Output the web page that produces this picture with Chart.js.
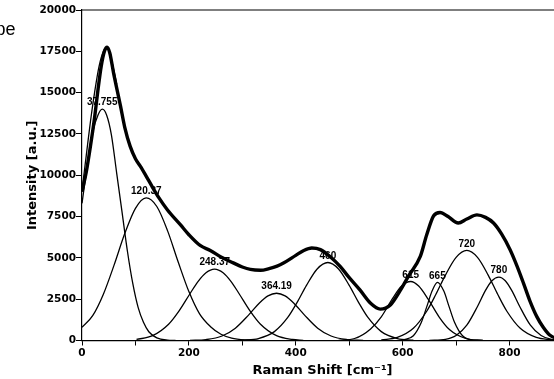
<!DOCTYPE html>
<html>
<head>
<meta charset="utf-8">
<script src="https://cdn.jsdelivr.net/npm/chart.js@4.4.1/dist/chart.umd.min.js"></script>
<style>
  html, body { margin: 0; padding: 0; background: #fff; overflow: hidden; }
  #wrap { width: 570px; height: 379px; }
</style>
</head>
<body>
<div id="wrap"><canvas id="ramanChart" width="570" height="379"></canvas></div>
<script>
// measured spectrum (thick dotted trace)
const expShift = [0, 8, 16, 24, 30, 36, 42, 47, 52, 59, 72, 80, 90, 100, 109, 120, 131, 144, 160, 184, 200, 221, 240, 260, 283, 300, 315, 334, 350, 365, 377, 400, 415, 430, 446, 465, 483, 500, 520, 540, 558, 577, 595, 612, 633, 645, 658, 670, 685, 704, 720, 739, 755, 770, 785, 801, 814, 826, 838, 851, 863, 875, 890, 900];
const expIntensity = [9000, 10200, 11800, 13600, 15200, 16600, 17500, 17750, 17400, 16200, 14200, 12900, 11760, 11000, 10550, 9950, 9330, 8630, 7900, 7010, 6400, 5750, 5450, 5050, 4700, 4450, 4300, 4250, 4350, 4500, 4685, 5150, 5450, 5600, 5500, 5050, 4480, 3800, 3060, 2250, 1900, 2150, 3000, 3950, 5085, 6400, 7550, 7750, 7500, 7110, 7350, 7600, 7450, 7110, 6450, 5490, 4500, 3470, 2400, 1444, 800, 334, 100, 30];

// fitted envelope on the first band, where it runs left of the dots
const fitShift = [0, 8, 16, 24, 32, 40, 46, 55, 65];
const fitIntensity = [9100, 11200, 13300, 15100, 16600, 17500, 17750, 17000, 15500];

// fitted components, [shift, intensity]
const band1 = [[0, 8300], [10, 10600], [20, 12600], [30, 13650], [38, 14000], [46, 13650], [55, 12450], [65, 10100], [75, 7750], [85, 5400], [95, 3450], [105, 2000], [115, 1100], [125, 530], [140, 160], [160, 20], [175, 0]];
const band2 = [[0, 800], [20, 1500], [40, 2800], [60, 4560], [80, 6470], [100, 8000], [120, 8630], [140, 8110], [160, 6650], [180, 4750], [200, 2960], [220, 1610], [240, 850], [260, 380], [280, 150], [310, 30], [330, 0]];
const band3 = [[102, 61], [132, 290], [162, 985], [182, 1810], [202, 2830], [217, 3565], [232, 4100], [248, 4320], [264, 4100], [279, 3565], [294, 2830], [314, 1810], [334, 985], [364, 290], [394, 61], [414, 10]];
const band4 = [[202, 8], [232, 56], [262, 271], [287, 748], [312, 1552], [332, 2268], [348, 2700], [364, 2860], [380, 2700], [396, 2268], [416, 1552], [441, 748], [466, 271], [496, 56], [526, 8]];
const band5 = [[300, 18], [330, 120], [360, 538], [385, 1393], [402, 2275], [420, 3335], [440, 4328], [460, 4720], [480, 4328], [500, 3335], [518, 2275], [535, 1393], [560, 538], [590, 120], [620, 18]];
const band6 = [[480, 13], [510, 121], [540, 700], [560, 1435], [580, 2488], [598, 3295], [615, 3570], [630, 3295], [648, 2488], [668, 1435], [688, 645], [718, 121], [750, 10]];
const band7 = [[600, 22], [620, 288], [635, 1102], [645, 2033], [655, 2990], [665, 3520], [677, 2990], [687, 2033], [697, 1102], [712, 288], [732, 22], [750, 0]];
const band8 = [[560, 33], [590, 185], [620, 738], [645, 1770], [662, 2782], [680, 3959], [700, 5031], [720, 5450], [740, 5031], [760, 3959], [778, 2782], [795, 1770], [820, 738], [850, 185], [880, 33]];
const band9 = [[650, 4], [680, 70], [700, 300], [720, 926], [740, 2061], [755, 3032], [767, 3616], [780, 3835], [792, 3616], [804, 3032], [819, 2061], [839, 926], [859, 300], [879, 70], [900, 0]];

// peak annotations
const peakLabels = ['37.755', '120.37', '248.37', '364.19', '460', '615', '665', '720', '780'];
const peakCenter = [37.755, 120.37, 248.37, 364.19, 460, 615, 665, 720, 780];
const peakHeight = [14000, 8630, 4320, 2860, 4720, 3570, 3520, 5450, 3835];

const xTickMarks = [0, 100, 200, 300, 400, 500, 600, 700, 800, 900];
const xTickLabels = [0, 200, 400, 600, 800];
const yTickValues = [0, 2500, 5000, 7500, 10000, 12500, 15000, 17500, 20000];

Chart.defaults.font.family = "'DejaVu Sans', sans-serif";
Chart.defaults.color = '#000';

const toPoints = pairs => pairs.map(([x, y]) => ({ x, y }));
const zipPoints = (xs, ys) => xs.map((x, i) => ({ x, y: ys[i] }));

const bands = [band1, band2, band3, band4, band5, band6, band7, band8, band9];

const lineStyle = {
  borderColor: '#000',
  pointRadius: 0,
  fill: false,
  cubicInterpolationMode: 'monotone'
};

const peakLabelPlugin = {
  id: 'peakLabels',
  beforeDatasetsDraw(chart) {
    const { ctx, scales } = chart;
    ctx.save();
    ctx.font = "bold 10px 'Liberation Sans', Arial, sans-serif";
    ctx.fillStyle = '#000';
    ctx.textAlign = 'center';
    ctx.textBaseline = 'middle';
    peakLabels.forEach((label, i) => {
      const px = scales.x.getPixelForValue(peakCenter[i]);
      const py = scales.y.getPixelForValue(peakHeight[i]) - 6.5;
      ctx.fillText(label, px, py);
    });
    ctx.restore();
  }
};

const framePlugin = {
  id: 'frame',
  afterDraw(chart) {
    const { ctx, chartArea } = chart;
    ctx.save();
    ctx.strokeStyle = '#000';
    ctx.lineWidth = 1.2;
    ctx.beginPath();
    ctx.moveTo(chartArea.left, chartArea.top);
    ctx.lineTo(chartArea.right, chartArea.top);
    ctx.lineTo(chartArea.right, chartArea.bottom);
    ctx.stroke();
    // clipped caption from the original figure
    ctx.font = "18px 'Liberation Sans', Arial, sans-serif";
    ctx.fillStyle = '#000';
    ctx.textAlign = 'right';
    ctx.textBaseline = 'alphabetic';
    ctx.fillText('pe', 15.5, 35);
    ctx.restore();
  }
};

new Chart(document.getElementById('ramanChart'), {
  type: 'line',
  data: {
    datasets: [
      ...bands.map(b => ({ ...lineStyle, data: toPoints(b), borderWidth: 1.3 })),
      { ...lineStyle, data: zipPoints(expShift, expIntensity), borderWidth: 3.4 },
      { ...lineStyle, data: zipPoints(fitShift, fitIntensity), borderWidth: 1.3 }
    ]
  },
  options: {
    responsive: false,
    animation: false,
    devicePixelRatio: 1,
    layout: { padding: { top: 10, right: 7, left: 0, bottom: 0 } },
    plugins: {
      legend: { display: false },
      tooltip: { enabled: false }
    },
    scales: {
      x: {
        type: 'linear',
        min: 0,
        max: 900,
        afterBuildTicks: s => { s.ticks = xTickMarks.map(v => ({ value: v })); },
        afterFit: s => { s.height = 38.5; },
        ticks: {
          autoSkip: false,
          maxRotation: 0,
          padding: 1,
          font: { weight: 'bold', size: 10.5 },
          callback: v => (xTickLabels.includes(v) ? String(v) : '')
        },
        grid: { drawOnChartArea: false, drawTicks: true, tickLength: 5, tickColor: '#000', tickWidth: 1 },
        border: { display: true, color: '#000', width: 1.2 },
        title: {
          display: true,
          text: 'Raman Shift [cm\u207B\u00B9]',
          font: { weight: 'bold', size: 13 },
          padding: { top: 0, bottom: 1 }
        }
      },
      y: {
        min: 0,
        max: 20000,
        afterBuildTicks: s => { s.ticks = yTickValues.map(v => ({ value: v })); },
        afterFit: s => { s.width = 82; },
        ticks: {
          autoSkip: false,
          padding: 0,
          font: { weight: 'bold', size: 10.5 },
          callback: v => String(v)
        },
        grid: { drawOnChartArea: false, drawTicks: true, tickLength: 6, tickColor: '#000', tickWidth: 1 },
        border: { display: true, color: '#000', width: 1.2 },
        title: {
          display: true,
          text: 'Intensity [a.u.]',
          font: { weight: 'bold', size: 13 },
          padding: { top: 25, bottom: 0 }
        }
      }
    }
  },
  plugins: [peakLabelPlugin, framePlugin]
});
</script>
</body>
</html>
